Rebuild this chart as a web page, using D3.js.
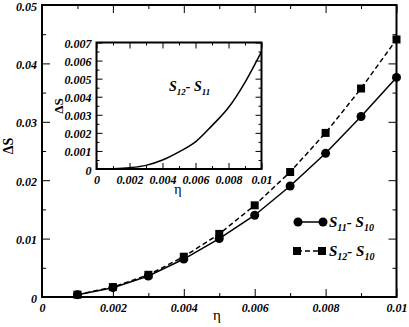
<!DOCTYPE html>
<html><head><meta charset="utf-8">
<script src="https://cdn.jsdelivr.net/npm/d3@7"></script>
<style>body{margin:0;background:#fff}svg{display:block}</style>
</head><body>
<svg id="c" width="409" height="327"></svg>
<script>
const eta = [0.001,0.002,0.003,0.004,0.005,0.006,0.007,0.008,0.009,0.010];
const s11s10 = [0.0004,0.0016,0.0036,0.0065,0.0100,0.0140,0.0190,0.0246,0.0309,0.0376];
const s12s10 = [0.0004,0.0017,0.0038,0.0069,0.0108,0.0157,0.0214,0.0281,0.0357,0.0441];
const s12s11 = [0.00001,0.00007,0.0002,0.0005,0.00095,0.0015,0.0024,0.0034,0.0048,0.0065];
const xTicks = [0,0.002,0.004,0.006,0.008,0.01];
const xMinor = [0.001,0.003,0.005,0.007,0.009];
const yTicks = [0,0.01,0.02,0.03,0.04,0.05];
const yMinor = [0.005,0.015,0.025,0.035,0.045];
const iyTicks = [0,0.001,0.002,0.003,0.004,0.005,0.006,0.007];
const iyMinor = [0.0005,0.0015,0.0025,0.0035,0.0045,0.0055,0.0065];
const fmt = d => d===0 ? "0" : String(+d.toFixed(4));

const svg = d3.select("#c");
const FONT = "'Liberation Serif','Times New Roman',serif";

function frame(g, x, y, xt, xm, yt, ym, maj, mnr, lw){
  const [x0,x1] = x.range(), [y0,y1] = y.range();
  const mk = (axis, tr, ticks, size, labels, pad) => {
    const a = g.append("g").attr("transform", tr)
      .call(axis.tickValues(ticks).tickSize(size).tickPadding(pad)
        .tickFormat(labels ? fmt : ""));
    a.select(".domain").remove();
    a.selectAll("line").attr("stroke","#000").attr("stroke-width",1);
    a.selectAll("text").attr("font-family",FONT).attr("font-weight","bold")
      .attr("font-style","italic").attr("font-size",12).attr("fill","#000");
    return a;
  };
  mk(d3.axisBottom(x), `translate(0,${y0})`, xt, -maj, true, 6);
  mk(d3.axisBottom(x), `translate(0,${y0})`, xm, -mnr, false, 0);
  mk(d3.axisTop(x), `translate(0,${y1})`, xt, -maj, false, 0);
  mk(d3.axisTop(x), `translate(0,${y1})`, xm, -mnr, false, 0);
  const ya = mk(d3.axisLeft(y), `translate(${x0},0)`, yt, -maj, true, 5);
  ya.selectAll("text").attr("dy","0.42em");
  mk(d3.axisLeft(y), `translate(${x0},0)`, ym, -mnr, false, 0);
  mk(d3.axisRight(y), `translate(${x1},0)`, yt, -maj, false, 0);
  mk(d3.axisRight(y), `translate(${x1},0)`, ym, -mnr, false, 0);
  g.append("rect").attr("x",x0).attr("y",y1).attr("width",x1-x0).attr("height",y0-y1)
    .attr("fill","none").attr("stroke","#000").attr("stroke-width",lw);
}

// main
const x = d3.scaleLinear().domain([0,0.01]).range([42,396.5]);
const y = d3.scaleLinear().domain([0,0.05]).range([297,5]);
const gm = svg.append("g");
frame(gm, x, y, xTicks, xMinor, yTicks, yMinor, 8, 4, 2);

const line = d3.line().x((d,i)=>x(eta[i])).y(d=>y(d));
gm.append("path").attr("d", line(s11s10)).attr("fill","none").attr("stroke","#000").attr("stroke-width",1.5);
gm.append("path").attr("d", line(s12s10)).attr("fill","none").attr("stroke","#000").attr("stroke-width",1.5).attr("stroke-dasharray","5,3");
gm.selectAll(".sq").data(s12s10).enter().append("rect")
  .attr("x",(d,i)=>x(eta[i])-4).attr("y",d=>y(d)-4).attr("width",8).attr("height",8).attr("fill","#000");
gm.selectAll(".ci").data(s11s10).enter().append("circle")
  .attr("cx",(d,i)=>x(eta[i])).attr("cy",d=>y(d)).attr("r",4.5).attr("fill","#000");

// axis labels main
svg.append("text").attr("transform","translate(12.5,146) rotate(-90)").attr("text-anchor","middle")
  .attr("font-family",FONT).attr("font-weight","bold").attr("font-size",14).text("ΔS");
svg.append("text").attr("x",217).attr("y",320).attr("text-anchor","middle")
  .attr("font-family",FONT).attr("font-size",15).text("η");

// legend
function subLabel(g, xx, yy, a, b, size, sub){
  const t = g.append("text").attr("x",xx).attr("y",yy).attr("font-family",FONT)
    .attr("font-weight","bold").attr("font-style","italic").attr("font-size",size).attr("fill","#000");
  t.append("tspan").text("S");
  t.append("tspan").attr("font-size",sub).attr("dy",size*0.28).text(a);
  t.append("tspan").attr("dy",-size*0.28).text("- S");
  t.append("tspan").attr("font-size",sub).attr("dy",size*0.28).text(b);
}
const lg = svg.append("g");
lg.append("line").attr("x1",298).attr("x2",323).attr("y1",222).attr("y2",222).attr("stroke","#000").attr("stroke-width",1.5);
lg.selectAll(".lc").data([298,323]).enter().append("circle").attr("cx",d=>d).attr("cy",222).attr("r",4.5).attr("fill","#000");
lg.append("line").attr("x1",297).attr("x2",322).attr("y1",251).attr("y2",251).attr("stroke","#000").attr("stroke-width",1.5).attr("stroke-dasharray","5,3");
lg.selectAll(".ls").data([297,322]).enter().append("rect").attr("x",d=>d-4).attr("y",247).attr("width",8).attr("height",8).attr("fill","#000");
subLabel(lg, 329, 227, "11", "10", 15, 10);
subLabel(lg, 329, 256, "12", "10", 15, 10);

// inset
const ix = d3.scaleLinear().domain([0,0.01]).range([96.5,261.5]);
const iy = d3.scaleLinear().domain([0,0.007]).range([169,42.5]);
const gi = svg.append("g");
gi.append("rect").attr("x",96.5).attr("y",42.5).attr("width",165).attr("height",126.5).attr("fill","#fff");
frame(gi, ix, iy, xTicks, xMinor, iyTicks, iyMinor, 6, 3, 2);
const iline = d3.line().x((d,i)=>ix(eta[i])).y(d=>iy(d)).curve(d3.curveMonotoneX);
gi.append("path").attr("d", iline(s12s11)).attr("fill","none").attr("stroke","#000").attr("stroke-width",1.5);
gi.append("text").attr("transform","translate(63,106) rotate(-90)").attr("text-anchor","middle")
  .attr("font-family",FONT).attr("font-weight","bold").attr("font-size",13).text("ΔS");
gi.append("text").attr("x",178).attr("y",194).attr("text-anchor","middle")
  .attr("font-family",FONT).attr("font-size",14).text("η");
subLabel(gi, 169, 91, "12", "11", 14, 9);
</script>
</body></html>
